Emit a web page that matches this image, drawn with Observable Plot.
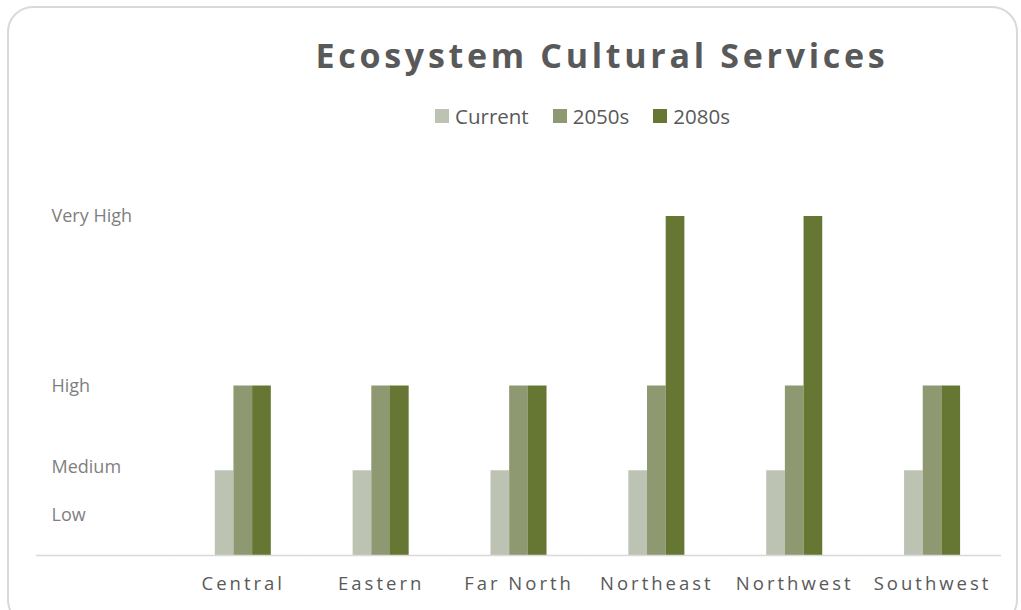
<!DOCTYPE html>
<html><head><meta charset="utf-8">
<script src="https://cdn.jsdelivr.net/npm/d3@7"></script>
<script src="https://cdn.jsdelivr.net/npm/@observablehq/plot@0.6"></script>
<style>
body{margin:0;background:#fff;font-family:"Open Sans",sans-serif;}
#wrap{position:relative;width:1021px;height:610px;overflow:hidden;background:#fff;}
#frame{position:absolute;left:7px;top:6px;width:1011px;height:620px;border:2px solid #d9d9d9;border-radius:26px;box-sizing:border-box;}
#title{position:absolute;left:302px;width:600px;top:28px;text-align:center;font-weight:bold;font-size:34px;letter-spacing:3.7px;color:#595959;line-height:54px;white-space:nowrap;}
#legend{position:absolute;left:0;width:1021px;top:102px;height:28px;display:flex;justify-content:center;padding-left:144px;box-sizing:border-box;font-size:20.5px;color:#595959;}
#legend .item{display:flex;align-items:center;margin:0 12px;}
#legend .sw{width:14px;height:14px;margin-right:6px;display:inline-block;}
#chart{position:absolute;left:0;top:140px;}
#chart svg [aria-label="fx-axis tick label"] text{letter-spacing:3px;}
</style>
</head><body>
<div id="wrap">
  <div id="frame"></div>
  <div id="title">Ecosystem Cultural Services</div>
  <div id="legend"></div>
  <div id="chart"></div>
</div>
<script>
const regions = ["Central", "Eastern", "Far North", "Northeast", "Northwest", "Southwest"];
const series = ["Current", "2050s", "2080s"];
const currentValues = [1, 1, 1, 1, 1, 1];
const values2050s = [2, 2, 2, 2, 2, 2];
const values2080s = [2, 2, 2, 4, 4, 2];
const levelTicks = [0.47, 1.04, 2, 4];
const levelLabels = ["Low", "Medium", "High", "Very High"];
const colors = ["#bdc3b2", "#8e9972", "#667633"];

const seriesValues = [currentValues, values2050s, values2080s];
const data = [];
regions.forEach((r, i) => series.forEach((s, j) => data.push({region: r, series: s, value: seriesValues[j][i]})));
// the category axis keeps an empty first slot, as in the original chart
const fxDomain = [" ", ...regions];

const legend = document.getElementById("legend");
series.forEach((s, j) => {
  const it = document.createElement("div");
  it.className = "item";
  it.innerHTML = `<span class="sw" style="background:${colors[j]}"></span><span>${s}</span>`;
  legend.appendChild(it);
});

const plot = Plot.plot({
  width: 1021,
  height: 470,
  marginLeft: 36,
  marginRight: 20,
  marginTop: 76,
  marginBottom: 55,
  style: {fontFamily: "'Open Sans', sans-serif", background: "transparent"},
  fx: {domain: fxDomain, paddingInner: 0, paddingOuter: 0, round: false, label: null},
  x: {domain: series, paddingInner: 0, paddingOuter: 2.19, round: false, axis: null},
  y: {domain: [0, 4], axis: null},
  color: {domain: series, range: colors},
  marks: [
    Plot.barY(data, {fx: "region", x: "series", y: "value", fill: "series"}),
    Plot.ruleY(fxDomain, {fx: (d) => d, y: 0, stroke: "#d9d9d9", strokeWidth: 1.5}),
    Plot.axisFx({anchor: "bottom", tickSize: 0, tickPadding: 21, fontSize: 18.5, fill: "#595959", label: null}),
    Plot.axisY({ticks: levelTicks, tickFormat: (d) => levelLabels[levelTicks.indexOf(d)], tickSize: 0, tickPadding: 0, textAnchor: "start", dx: 15, fontSize: 18, fill: "#7f7f7f", label: null})
  ]
});
document.getElementById("chart").appendChild(plot);
</script>
</body></html>
